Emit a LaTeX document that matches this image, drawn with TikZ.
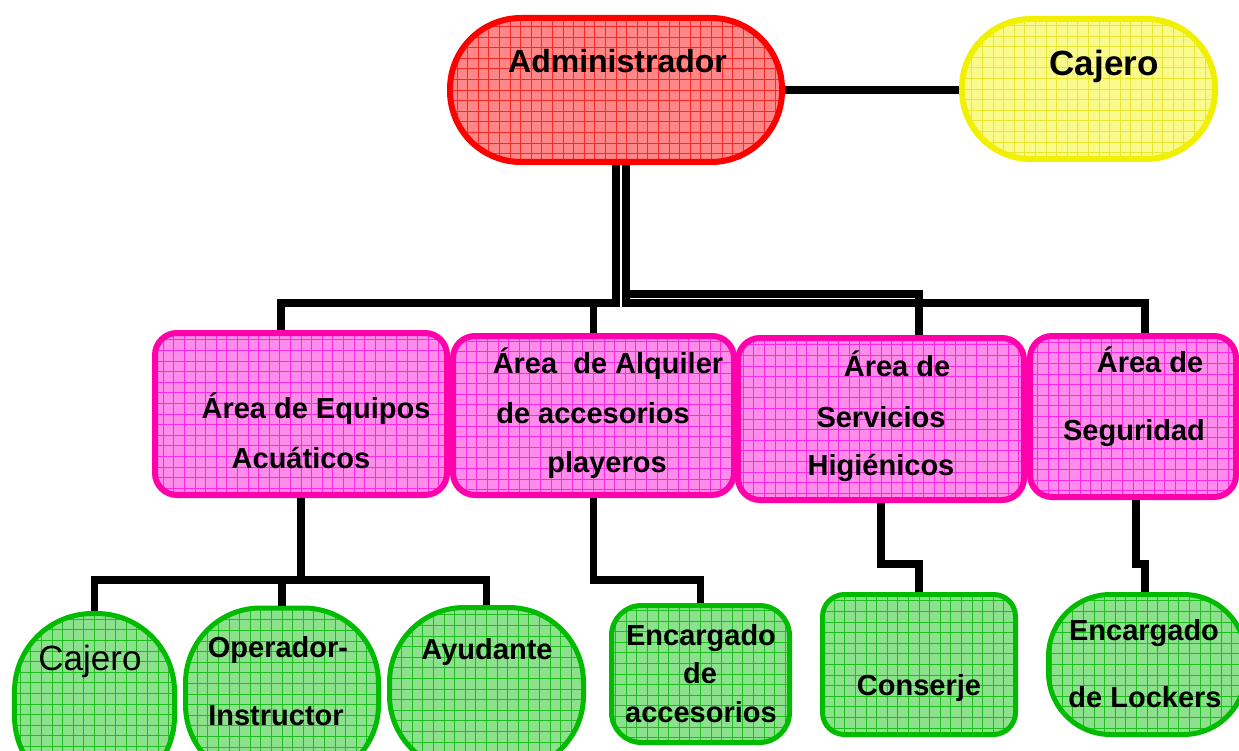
\documentclass[tikz,border=0pt]{standalone}
\usepackage{fontspec}
\setmainfont{Liberation Sans}
\usetikzlibrary{calc}
\definecolor{redB}{RGB}{255,0,0}
\definecolor{redF}{RGB}{255,135,135}
\definecolor{redG}{RGB}{255,40,40}
\definecolor{yelB}{RGB}{240,240,0}
\definecolor{yelF}{RGB}{250,250,140}
\definecolor{yelG}{RGB}{232,232,50}
\definecolor{pinkB}{RGB}{255,0,170}
\definecolor{pinkF}{RGB}{255,140,235}
\definecolor{pinkG}{RGB}{255,40,225}
\definecolor{grnB}{RGB}{0,187,0}
\definecolor{grnF}{RGB}{140,225,140}
\definecolor{grnG}{RGB}{30,190,30}
\tikzset{
  gridded/.style={path picture={\draw[#1, line width=0.9pt] (path picture bounding box.south west) grid[step=10.6pt] (path picture bounding box.north east);}},
  redbox/.style={rectangle, draw=redB, fill=redF, line width=6pt, inner sep=0pt, gridded=redG},
  yelbox/.style={rectangle, draw=yelB, fill=yelF, line width=6pt, inner sep=0pt, gridded=yelG},
  pinkbox/.style={rectangle, draw=pinkB, fill=pinkF, line width=6pt, inner sep=0pt, rounded corners=22pt, gridded=pinkG},
  grnbox/.style={rectangle, draw=grnB, fill=grnF, line width=5pt, inner sep=0pt, gridded=grnG},
  conn/.style={draw=black, line width=7.5pt, line join=miter},
  lbl/.style={anchor=base, inner sep=0pt, font=\bfseries\fontsize{29}{29}\selectfont},
}
\begin{document}
\begin{tikzpicture}[x=1pt, y=-1pt]
\useasboundingbox (0,0) rectangle (1239,751);
\clip (0,0) rectangle (1239,751);
% top level
\node[redbox, rounded corners=71pt, minimum width=332pt, minimum height=144pt] (admin) at (616,90) {};
\node[yelbox, rounded corners=69pt, minimum width=253pt, minimum height=140pt] (caj) at (1088.5,89) {};
% areas
\node[pinkbox, minimum width=292pt, minimum height=162pt] (eq) at (301,414) {};
\node[pinkbox, minimum width=281pt, minimum height=159pt] (alq) at (593.5,415.5) {};
\node[pinkbox, minimum width=286pt, minimum height=162pt] (ser) at (881,419) {};
\node[pinkbox, minimum width=206pt, minimum height=161pt] (seg) at (1133,416.5) {};
% staff
\node[grnbox, rounded corners=78pt, minimum width=160pt, minimum height=181pt] (caj2) at (94.5,704) {};
\node[grnbox, rounded corners=75pt, minimum width=193pt, minimum height=172pt] (ope) at (282,694) {};
\node[grnbox, rounded corners=75pt, minimum width=194pt, minimum height=163pt] (ayu) at (486.5,689) {};
\node[grnbox, rounded corners=30pt, minimum width=178pt, minimum height=137pt] (enc) at (700.5,674) {};
\node[grnbox, rounded corners=22pt, minimum width=193pt, minimum height=140pt] (con) at (919,664.5) {};
\node[grnbox, rounded corners=62pt, minimum width=197pt, minimum height=140pt] (lock) at (1147,664.5) {};
% bus levels
\coordinate (busT) at (0,294);
\coordinate (busB) at (0,303);
\coordinate (busE) at (0,580);
\coordinate (busS) at (0,564);
% connectors
\draw[conn] (admin.east) -- (admin.east -| caj.west);
\draw[conn] (admin.south) |- ([xshift=-20pt]eq.north |- busB) -- ([xshift=-20pt]eq.north);
\draw[conn] (alq.north) -- (alq.north |- busB);
\draw[conn] ([xshift=10pt]admin.south) |- ([xshift=38pt]ser.north |- busT) -- ([xshift=38pt]ser.north);
\draw[conn] ([xshift=10pt]admin.south |- busT) -- ([xshift=10pt]admin.south |- busB) -- ([xshift=12pt]seg.north |- busB) -- ([xshift=12pt]seg.north);
\draw[conn] (eq.south) -- (eq.south |- busE);
\draw[conn] (caj2.north) -- (caj2.north |- busE) -- (ayu.north |- busE) -- (ayu.north);
\draw[conn] (ope.north) -- (ope.north |- busE);
\draw[conn] (alq.south) |- (enc.north |- busE) -- (enc.north);
\draw[conn] (ser.south) |- (con.north |- busS) -- (con.north);
\draw[conn] ([xshift=3pt]seg.south) |- ([xshift=-2pt]lock.north |- busS) -- ([xshift=-2pt]lock.north);
% texts
\node[lbl, font=\bfseries\fontsize{32}{32}\selectfont] (t-admin) at (617.5,73) {Administrador};
\node[lbl, font=\bfseries\fontsize{35}{35}\selectfont] (t-caj) at (1104,76) {Cajero};
\node[lbl] (t-eq1) at (316,418) {Área de Equipos};
\node[lbl] (t-eq2) at (301,468) {Acuáticos};
\node[lbl] (t-alq1) at (608,373) {Área\ \ de Alquiler};
\node[lbl] (t-alq2) at (593,423) {de accesorios};
\node[lbl] (t-alq3) at (607,472) {playeros};
\node[lbl] (t-ser1) at (897,376) {Área de};
\node[lbl] (t-ser2) at (881,427) {Servicios};
\node[lbl] (t-ser3) at (881,475) {Higiénicos};
\node[lbl] (t-seg1) at (1150,372) {Área de};
\node[lbl] (t-seg2) at (1134,440) {Seguridad};
\node[lbl, font=\mdseries\fontsize{35}{35}\selectfont] (t-caj2) at (90,670) {Cajero};
\node[lbl] (t-ope1) at (278,657) {Operador-};
\node[lbl] (t-ope2) at (276,725) {Instructor};
\node[lbl] (t-ayu) at (487,659) {Ayudante};
\node[lbl] (t-enc1) at (701,645) {Encargado};
\node[lbl] (t-enc2) at (700,683) {de};
\node[lbl] (t-enc3) at (701,722) {accesorios};
\node[lbl] (t-con) at (919,695) {Conserje};
\node[lbl] (t-lock1) at (1144,640) {Encargado};
\node[lbl] (t-lock2) at (1145,707) {de Lockers};
\end{tikzpicture}
\end{document}
